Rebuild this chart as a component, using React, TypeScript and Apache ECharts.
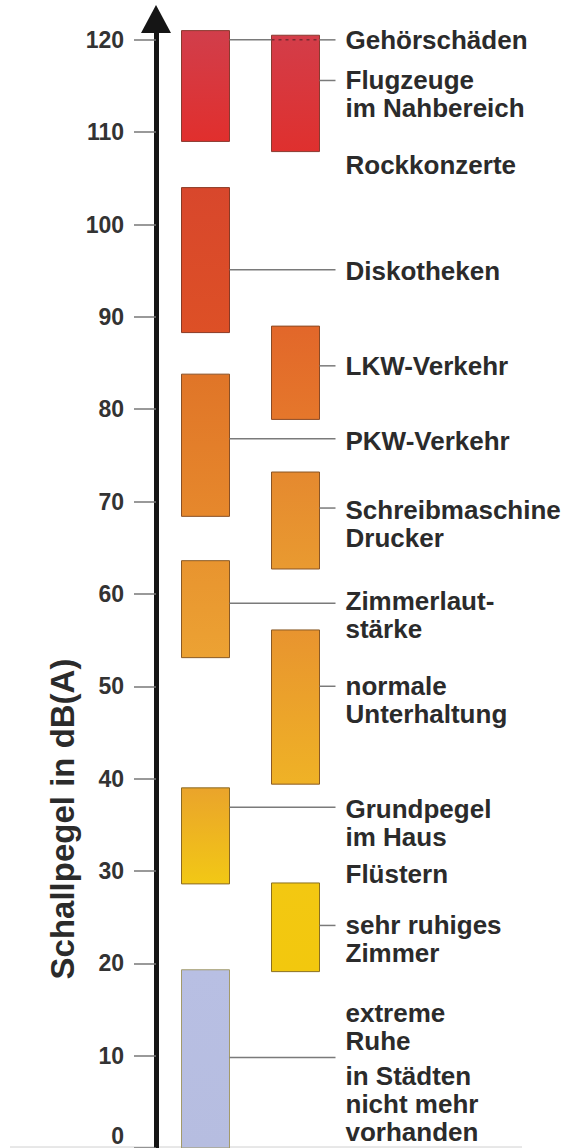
import React, { useEffect, useRef } from 'react';
import * as echarts from 'echarts';

// ---------- data ----------
const yTicks = [0, 10, 20, 30, 40, 50, 60, 70, 80, 90, 100, 110, 120];

// bars: column (0 = left, 1 = right), low and high dB(A)
const barColumns = [0, 0, 0, 0, 0, 0, 1, 1, 1, 1, 1];
const barLow = [109, 88.3, 68.4, 53.1, 28.6, 0, 107.9, 78.9, 62.7, 39.4, 19.1];
const barHigh = [121, 104, 83.8, 63.6, 39, 19.3, 120.5, 89, 73.2, 56.1, 28.7];

// labels: text and the dB(A) level of their first line
const labelTexts = [
  'Gehörschäden',
  'Flugzeuge\nim Nahbereich',
  'Rockkonzerte',
  'Diskotheken',
  'LKW-Verkehr',
  'PKW-Verkehr',
  'Schreibmaschine\nDrucker',
  'Zimmerlaut-\nstärke',
  'normale\nUnterhaltung',
  'Grundpegel\nim Haus',
  'Flüstern',
  'sehr ruhiges\nZimmer',
  'extreme\nRuhe',
  'in Städten\nnicht mehr\nvorhanden',
];
const labelLevels = [120, 115.6, 106.4, 95.0, 84.7, 76.6, 69.1, 59.2, 50.0, 36.7, 29.7, 24.1, 14.6, 7.8];

// connector lines: level and the column they start from
const connectorLevels = [120, 115.6, 95.1, 84.7, 76.8, 69.3, 59.0, 50.0, 36.9, 24.1, 9.8];
const connectorColumns = [0, 1, 0, 1, 0, 1, 0, 1, 0, 1, 0];

// ---------- styles ----------
const barTopColors = ['#d13e4b', '#d8472c', '#e07528', '#e8942f', '#eaa42b', '#b8bfe3',
  '#d33d49', '#e2672a', '#e5892f', '#e8942f', '#f3c812'];
const barBottomColors = ['#e12f2d', '#dd5026', '#e6882c', '#eca233', '#f2c815', '#b6bde0',
  '#df302e', '#e5772b', '#e99a30', '#efb226', '#f2c80e'];
const barStrokes = ['#8a3a30', '#8a3a25', '#8a5025', '#8a5a25', '#8a6a25', '#a39a6a',
  '#8a3a30', '#8a4a25', '#8a5525', '#8a5a25', '#8a7020'];

const FONT = '"Liberation Sans", Arial, Helvetica, sans-serif';
const TEXT_COLOR = '#2b2b2b';
const BAR_W = 48;

export default function App() {
  const ref = useRef<HTMLDivElement>(null);

  useEffect(() => {
    if (!ref.current) return;
    const chart = echarts.init(ref.current, undefined, { renderer: 'svg' });

    const option: any = {
      animation: false,
      backgroundColor: '#ffffff',
      grid: { left: 156, top: 26, width: 180, height: 1126 },
      xAxis: { type: 'value', min: -0.55, max: 1.45, show: false },
      yAxis: {
        type: 'value',
        min: 0,
        max: 121.5,
        position: 'left',
        axisLine: {
          show: true,
          onZero: false,
          lineStyle: { color: '#151515', width: 5 },
          symbol: ['none', 'triangle'],
          symbolSize: [30, 28],
          symbolOffset: [0, 7],
        },
        axisTick: {
          show: true,
          length: 22,
          customValues: yTicks,
          lineStyle: { color: '#777777', width: 1.5 },
        },
        axisLabel: {
          customValues: yTicks,
          margin: 32,
          fontSize: 23,
          fontWeight: 'bold',
          fontFamily: FONT,
          color: '#333333',
          formatter: (v: number) => (v === 0 ? '{z|0}' : String(v)),
          rich: {
            z: { fontSize: 23, fontWeight: 'bold', fontFamily: FONT, color: '#333333', padding: [0, 0, 24, 0] },
          },
        },
        splitLine: { show: false },
      },
      graphic: [
        {
          type: 'text',
          x: 62,
          y: 819,
          rotation: Math.PI / 2,
          style: {
            text: 'Schallpegel in dB(A)',
            font: `bold 33px ${FONT}`,
            fill: TEXT_COLOR,
            align: 'center',
            verticalAlign: 'middle',
          },
        },
        {
          type: 'line',
          shape: { x1: 10, y1: 1147, x2: 522, y2: 1147 },
          style: { stroke: '#d0d0d0', lineWidth: 1 },
        },
      ],
      series: [
        {
          type: 'custom',
          name: 'bars',
          clip: false,
          z: 2,
          data: barColumns.map((c, i) => [c, barLow[i], barHigh[i]]),
          renderItem: (params: any, api: any) => {
            const i = params.dataIndex;
            const col = api.value(0);
            const top = api.coord([col, api.value(2)]);
            const bot = api.coord([col, api.value(1)]);
            return {
              type: 'rect',
              shape: { x: top[0] - BAR_W / 2, y: top[1], width: BAR_W, height: bot[1] - top[1] },
              style: {
                fill: new echarts.graphic.LinearGradient(0, 0, 0, 1, [
                  { offset: 0, color: barTopColors[i] },
                  { offset: 1, color: barBottomColors[i] },
                ]),
                stroke: barStrokes[i],
                lineWidth: 1,
                opacity: 1,
              },
            };
          },
        },
        {
          type: 'custom',
          name: 'connectors',
          clip: false,
          z: 3,
          data: connectorColumns.map((c, i) => [c, connectorLevels[i]]),
          renderItem: (params: any, api: any) => {
            const col = api.value(0);
            const lvl = api.value(1);
            const p = api.coord([col, lvl]);
            const right = api.coord([1, lvl]);
            const startX = p[0] + BAR_W / 2;
            const endX = right[0] + 40;
            const y = p[1];
            const lineStyle = { stroke: '#7a7a7a', lineWidth: 1.5 };
            const children: any[] = [];
            let crosses = false;
            if (col === 0) {
              for (let k = 0; k < barColumns.length; k++) {
                if (barColumns[k] === 1 && barLow[k] <= lvl && barHigh[k] >= lvl) crosses = true;
              }
            }
            if (crosses) {
              const l2 = right[0] - BAR_W / 2;
              const r2 = right[0] + BAR_W / 2;
              children.push({ type: 'line', shape: { x1: startX, y1: y, x2: l2, y2: y }, style: lineStyle });
              children.push({
                type: 'line',
                shape: { x1: l2, y1: y, x2: r2, y2: y },
                style: { stroke: '#7a2a30', lineWidth: 1.5, lineDash: [3, 4] },
              });
              children.push({ type: 'line', shape: { x1: r2, y1: y, x2: endX, y2: y }, style: lineStyle });
            } else {
              children.push({ type: 'line', shape: { x1: startX, y1: y, x2: endX, y2: y }, style: lineStyle });
            }
            return { type: 'group', children };
          },
        },
        {
          type: 'custom',
          name: 'labels',
          clip: false,
          z: 4,
          data: labelLevels.map((l) => [1, l]),
          renderItem: (params: any, api: any) => {
            const i = params.dataIndex;
            const p = api.coord([1, api.value(1)]);
            return {
              type: 'text',
              x: p[0] + 50,
              y: p[1] - 14,
              style: {
                text: labelTexts[i],
                font: `bold 26px ${FONT}`,
                fill: TEXT_COLOR,
                lineHeight: 28,
                align: 'left',
                verticalAlign: 'top',
              },
            };
          },
        },
      ],
    };

    chart.setOption(option);
    return () => chart.dispose();
  }, []);

  return (
    <div
      ref={ref}
      style={{ position: 'absolute', left: 0, top: 0, width: 578, height: 1148, background: '#fff' }}
    />
  );
}
